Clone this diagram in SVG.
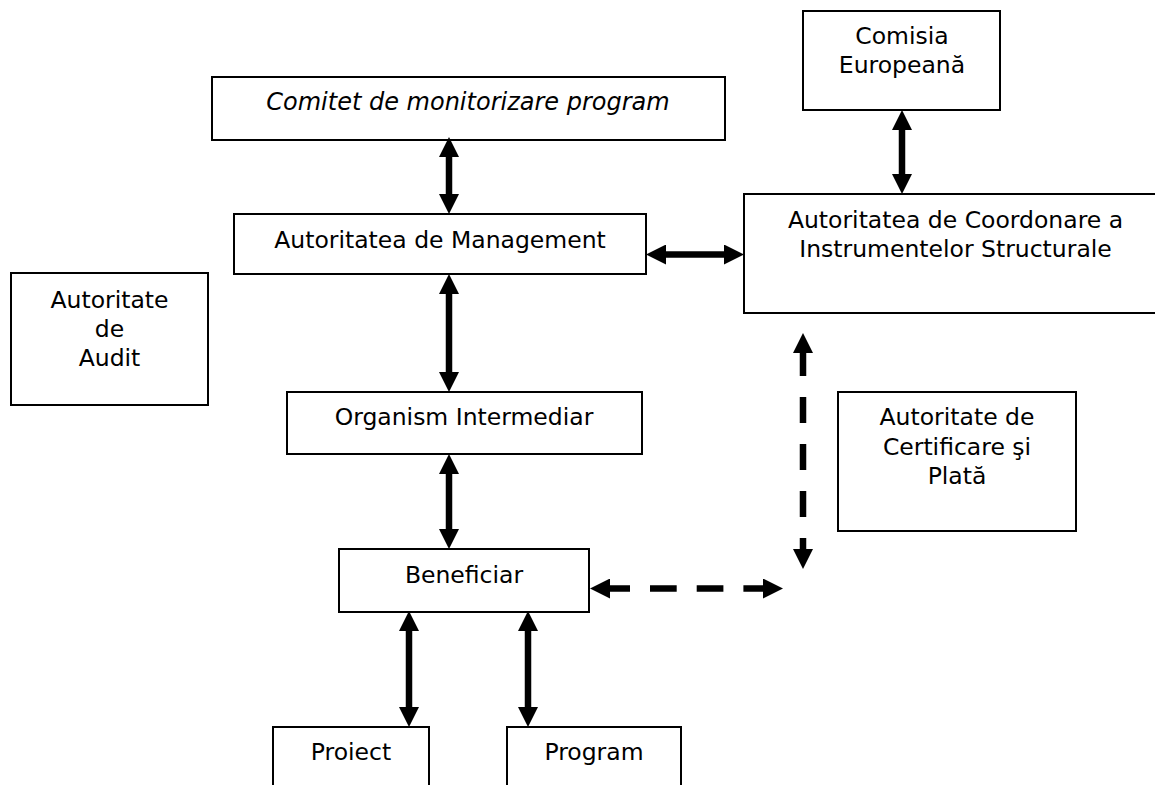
<svg xmlns="http://www.w3.org/2000/svg" width="1155" height="785" viewBox="0 0 1155 785">
<style>
  .box { fill: #ffffff; stroke: #000000; stroke-width: 2; }
  .lbl { font-family: "DejaVu Sans", Verdana, sans-serif; font-size: 23.5px; fill: #000000; text-anchor: middle; }
  .it { font-style: italic; font-size: 24px; }
  .arr { stroke: #000000; stroke-width: 6.5; fill: none; marker-start: url(#head); marker-end: url(#head); }
  .dash1 { stroke-dasharray: 26 21; stroke-dashoffset: 3; }
  .dash2 { stroke-dasharray: 26.7 20; stroke-dashoffset: 6.7; }
</style>
<defs>
  <marker id="head" viewBox="0 0 20 20" markerWidth="20" markerHeight="20" markerUnits="userSpaceOnUse" refX="0" refY="10" orient="auto-start-reverse">
    <path d="M0,0 L20,10 L0,20 z" fill="#000000"/>
  </marker>
</defs>
<rect x="0" y="0" width="1155" height="785" fill="#ffffff"/>

<g id="comisia">
  <rect class="box" x="803" y="11" width="197" height="99"/>
  <text class="lbl" x="902" y="44">Comisia</text>
  <text class="lbl" x="902" y="73">Europeană</text>
</g>
<g id="comitet">
  <rect class="box" x="212" y="77" width="513" height="63"/>
  <text class="lbl it" x="468" y="110">Comitet de monitorizare program</text>
</g>
<g id="management">
  <rect class="box" x="234" y="214" width="412" height="60"/>
  <text class="lbl" x="440" y="247.5">Autoritatea de Management</text>
</g>
<g id="coordonare">
  <rect class="box" x="744" y="194" width="423" height="119"/>
  <text class="lbl" x="955.5" y="227.7">Autoritatea de Coordonare a</text>
  <text class="lbl" x="955.5" y="256.7">Instrumentelor Structurale</text>
</g>
<g id="audit">
  <rect class="box" x="11" y="273" width="197" height="132"/>
  <text class="lbl" x="109.5" y="307.7">Autoritate</text>
  <text class="lbl" x="109.5" y="336.7">de</text>
  <text class="lbl" x="109.5" y="366">Audit</text>
</g>
<g id="organism">
  <rect class="box" x="287" y="392" width="355" height="62"/>
  <text class="lbl" x="464" y="425">Organism Intermediar</text>
</g>
<g id="certificare">
  <rect class="box" x="838" y="392" width="238" height="139"/>
  <text class="lbl" x="957" y="425">Autoritate de</text>
  <text class="lbl" x="957" y="455">Certificare şi</text>
  <text class="lbl" x="957" y="483.5">Plată</text>
</g>
<g id="beneficiar">
  <rect class="box" x="339" y="549" width="250" height="63"/>
  <text class="lbl" x="464" y="582.7">Beneficiar</text>
</g>
<g id="proiect">
  <rect class="box" x="273" y="727" width="156" height="80"/>
  <text class="lbl" x="351" y="760">Proiect</text>
</g>
<g id="program">
  <rect class="box" x="507" y="727" width="174" height="80"/>
  <text class="lbl" x="594" y="760">Program</text>
</g>

<g id="connectors">
  <line class="arr" x1="449" y1="157" x2="449" y2="194"/>
  <line class="arr" x1="666" y1="254.5" x2="724" y2="254.5"/>
  <line class="arr" x1="902" y1="130" x2="902" y2="174"/>
  <line class="arr" x1="449" y1="294" x2="449" y2="372"/>
  <line class="arr" x1="449" y1="474" x2="449" y2="529"/>
  <line class="arr" x1="409" y1="631" x2="409" y2="707"/>
  <line class="arr" x1="528" y1="631" x2="528" y2="707"/>
  <line class="arr dash1" x1="803" y1="353" x2="803" y2="549"/>
  <line class="arr dash2" x1="610" y1="588.5" x2="763" y2="588.5"/>
</g>
</svg>
